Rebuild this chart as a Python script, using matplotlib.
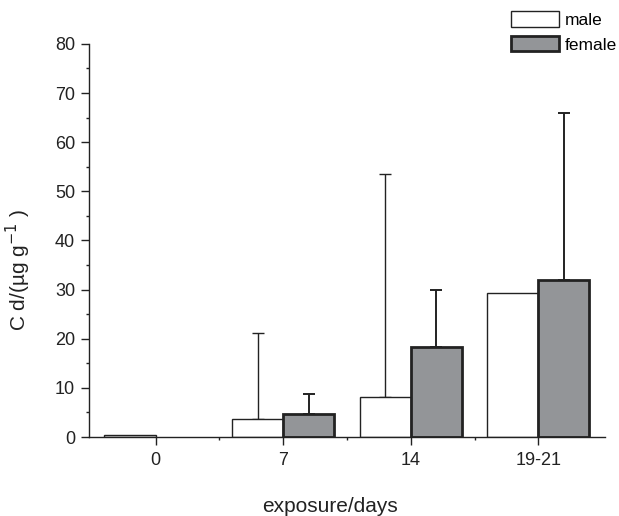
import numpy as np
import matplotlib.pyplot as plt
from matplotlib.patches import Patch
from matplotlib.ticker import MultipleLocator

plt.rcParams['font.family'] = ['Liberation Sans', 'DejaVu Sans']

days = ['0', '7', '14', '19-21']
male = [0.5, 3.6, 8.1, 29.4]
male_err = [0, 17.6, 45.4, 0]
female = [0, 4.6, 18.4, 32.0]
female_err = [0, 4.2, 11.6, 33.9]

x = np.arange(len(days))
w = 0.4

fig = plt.figure(figsize=(6.19, 5.16), dpi=100)
ax = fig.add_axes([0.144, 0.153, 0.833, 0.762])

ax.bar(x - w/2, male, w, color='white', edgecolor='#222222',
       linewidth=[1.0 if v > 0 else 0 for v in male], zorder=2)
ax.bar(x + w/2, female, w, color='#939598', edgecolor='#222222',
       linewidth=[2.0 if v > 0 else 0 for v in female], zorder=2)
me = np.array(male_err)
fe = np.array(female_err)
mk = me > 0
fk = fe > 0
ax.errorbar((x - w/2)[mk], np.array(male)[mk], yerr=[np.zeros(mk.sum()), me[mk]],
            fmt='none', ecolor='#222222', elinewidth=1.0, capsize=4, capthick=1.0, zorder=1)
ax.errorbar((x + w/2)[fk], np.array(female)[fk], yerr=[np.zeros(fk.sum()), fe[fk]],
            fmt='none', ecolor='#222222', elinewidth=1.4, capsize=4, capthick=1.4, zorder=1)

ax.set_xlim(-0.52, 3.52)
ax.set_ylim(0, 80)
ax.set_xticks(x)
ax.set_xticklabels(days)
ax.set_xticks(x[:-1] + 0.5, minor=True)
ax.yaxis.set_major_locator(MultipleLocator(10))
ax.yaxis.set_minor_locator(MultipleLocator(5))
for s in ['top', 'right']:
    ax.spines[s].set_visible(False)
for s in ['left', 'bottom']:
    ax.spines[s].set_linewidth(1.0)
    ax.spines[s].set_color('#222222')
ax.tick_params(which='major', length=6, width=1.0, labelsize=13, colors='#222222', pad=4)
ax.tick_params(which='minor', length=2.2, width=1.0, colors='#222222')
ax.tick_params(axis='x', which='major', pad=5)

ax.set_xlabel('exposure/days', fontsize=15, color='#222222')
ax.set_ylabel('C d/(µg g$^{-1}$ )', fontsize=15, color='#222222')
ax.xaxis.set_label_coords(0.467, -0.153)
ax.yaxis.set_label_coords(-0.108, 0.425)

handles = [Patch(facecolor='white', edgecolor='#222222', linewidth=1.0, label='male'),
           Patch(facecolor='#939598', edgecolor='#222222', linewidth=2.0, label='female')]
fig.legend(handles=handles, loc='upper left', bbox_to_anchor=(0.803, 1.005), frameon=False,
           fontsize=12.5, handlelength=2.75, handleheight=1.0, handletextpad=0.35,
           labelspacing=0.45, borderpad=0.3)

plt.savefig('out.png', dpi=100)
